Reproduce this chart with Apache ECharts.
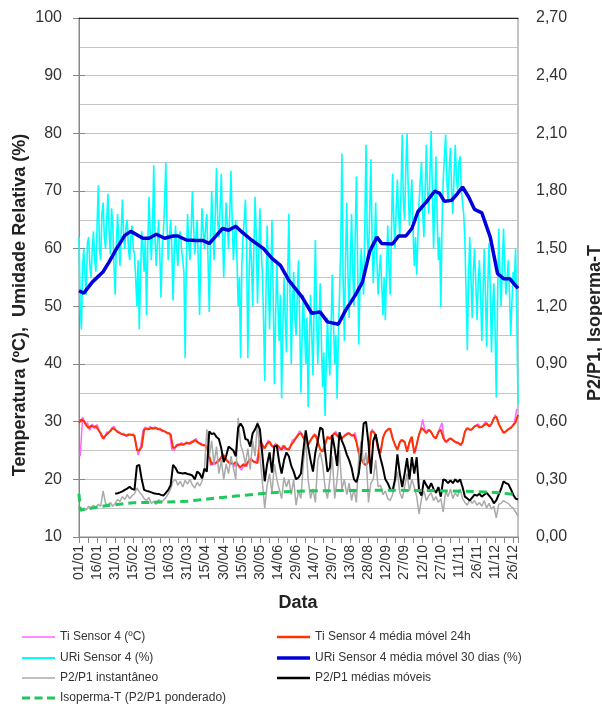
<!DOCTYPE html>
<html>
<head>
<meta charset="utf-8">
<title>Sensor 4</title>
<script src="https://cdn.jsdelivr.net/npm/echarts@6/dist/echarts.min.js"></script>
<style>
	html, body { margin: 0; padding: 0; background: #fff; }
	#chart { width: 602px; height: 707px; }
</style>
</head>
<body>
<div id="chart"></div>
<script>
// dias contados a partir de 01/01 (ano bissexto)

// URi Sensor 4 (%) - um valor por dia, 0..364
const uriSensor = [
	62, 50, 46, 57, 60, 55, 52, 61, 62, 57, 55, 60, 63, 58, 56, 64,
	71, 60, 58, 66, 68, 62, 60, 65, 69.5, 63, 59, 67, 64, 57, 52, 61,
	66, 61, 57, 63, 68.5, 62, 60, 64, 65, 60, 58, 62, 64, 60, 59, 55,
	50, 58, 46, 55, 63, 60, 56, 62, 48.5, 60, 69, 63, 58, 64, 74.5, 62,
	57, 61, 65, 59, 51.5, 60, 63, 68, 75, 64, 58, 62, 65, 60, 51, 59,
	64, 60, 57, 62, 63, 60, 58, 56, 41, 58, 66, 61, 58, 63, 70, 64,
	59, 62, 65, 57, 48.5, 60, 67, 63, 60, 64, 66, 58, 49, 61, 70, 64,
	58, 66, 74, 65, 62, 67, 73, 63, 55, 62, 68, 64, 60, 66, 73.5, 65,
	58, 62, 65, 58, 50, 55, 41, 57, 62, 65, 68.5, 60, 41, 55, 62, 58,
	50, 60, 69, 62, 50.5, 58, 67, 60, 56, 48, 37, 52, 64, 55, 46, 54,
	65, 52, 36.5, 48, 58, 50, 44, 52, 34, 46, 55, 48, 42, 55, 66, 52,
	40, 50, 56, 48, 45, 52, 58, 47, 35, 45, 52, 46, 40, 48, 32.5, 44,
	52, 45, 38, 50, 61.5, 48, 40, 47, 54, 44, 36, 42, 31, 40, 48, 42,
	38, 46, 55.5, 47, 40, 45, 34, 44, 52, 60, 76.5, 55, 44, 58, 68, 56,
	48, 58, 66, 56, 50, 62, 72.5, 58, 43.4, 54, 60, 56, 52, 64, 78, 62,
	58, 66, 75.5, 62, 54, 60, 68, 58, 52, 56, 59, 54, 48.5, 55, 47.6, 56,
	64, 57, 52, 62, 73, 65, 60, 67, 72, 66, 62, 70, 79.8, 68, 65, 74,
	80, 70, 64, 68, 72, 63, 57, 62, 55.5, 62, 68, 72, 75, 66, 62, 70,
	78, 70, 66, 73, 80.4, 70, 60, 68, 76, 65, 58, 62, 49.9, 64, 72, 76,
	79.8, 72, 68, 74, 77.5, 70, 66, 73, 78, 72, 70, 75, 76, 70, 68, 66,
	61, 52, 42.4, 55, 62, 55, 48, 56, 60, 54, 47.6, 54, 58, 52, 44, 52,
	60, 52, 43, 54, 61, 53, 42, 50, 54, 46, 34.2, 50, 63.5, 56, 50, 57,
	63.5, 57, 52, 55, 58, 52, 45, 51, 56, 54, 60, 48, 33
];

// URi Sensor 4 média móvel 30 dias (%)
const uriMediaDias = [0, 4, 11, 20, 25, 32, 38, 43, 49, 53, 58, 64, 71, 78, 82, 89, 97, 103, 108, 114,
	119, 124, 130, 135, 143, 153, 160, 167, 174, 185, 193, 200, 206, 215, 221, 229, 235, 241, 247, 251,
	260, 265, 271, 276, 281, 288, 295, 299, 303, 309, 314, 318, 323, 328, 334, 341, 347, 352, 357, 364];
const uriMediaValores = [52.7, 52.3, 54.2, 56.0, 57.7, 60.3, 62.3, 63.0, 62.3, 61.8, 61.8, 62.5, 61.8, 62.2, 62.2, 61.5, 61.4, 61.4, 60.9, 62.3,
	63.5, 63.2, 63.9, 62.9, 61.5, 60.0, 58.3, 57.1, 54.5, 51.6, 48.8, 49.0, 47.3, 46.9, 49.3, 51.9, 54.2, 59.5, 62.0, 60.9,
	60.8, 62.2, 62.2, 63.5, 66.4, 68.1, 70.0, 69.6, 68.2, 68.4, 69.6, 70.7, 69.0, 66.8, 66.2, 62.0, 55.7, 54.8, 54.8, 53.1];

// Ti Sensor 4 (ºC) - dias 1,3,5...
const tiSensor = [
	24.0, 30.8, 29.6, 29.8, 28.5, 29.6, 28.8, 29.5,
	28.2, 27.2, 27.0, 28.2, 28.1, 28.8, 29.2, 28.4,
	28.3, 27.8, 28.0, 27.4, 27.9, 27.6, 27.9, 26.5,
	24.2, 25.6, 28.4, 29.1, 28.6, 29.2, 28.7, 29.1,
	28.6, 28.9, 28.3, 28.4, 27.9, 28.1, 25.2, 25.0,
	26.1, 25.8, 26.4, 25.9, 26.5, 26.1, 26.6, 26.4,
	27.1, 26.3, 26.3, 25.8, 26.0, 25.4, 22.4, 23.0,
	22.6, 23.4, 23.5, 24.5, 23.8, 23.1, 22.6, 22.9,
	22.2, 23.1, 22.0, 21.6, 22.8, 22.2, 23.3, 23.6,
	22.9, 23.2, 24.5, 26.6, 25.2, 26.0, 26.8, 25.9,
	25.5, 26.3, 25.4, 25.0, 25.9, 25.1, 25.3, 25.6,
	26.8, 27.0, 27.6, 28.4, 27.8, 26.8, 26.2, 26.3,
	27.1, 27.9, 27.4, 25.8, 24.9, 25.2, 26.8, 27.2,
	27.4, 27.9, 28.3, 27.4, 27.0, 27.3, 27.8, 28.1,
	27.8, 27.5, 28.1, 25.6, 23.9, 23.2, 22.4, 22.7,
	26.0, 28.7, 27.9, 26.2, 24.4, 25.9, 27.8, 28.5,
	28.9, 28.2, 26.5, 25.4, 25.6, 26.9, 26.6, 25.8,
	25.2, 27.2, 25.6, 24.8, 27.2, 28.4, 30.4, 28.2,
	28.5, 28.5, 27.8, 27.2, 27.6, 28.8, 29.8, 26.8,
	26.4, 27.1, 27.0, 26.6, 26.2, 26.3, 25.8, 27.4,
	28.8, 28.7, 28.5, 29.0, 29.3, 29.6, 29.0, 29.3,
	30.0, 29.5, 29.2, 30.0, 31.2, 30.4, 29.2, 28.4,
	28.0, 28.6, 28.8, 29.2, 29.8, 32.2
];

// Ti Sensor 4 média móvel 24h - dias 0,2,4...
const tiMedia24h = [
	29.8, 30.4, 30.1, 29.4, 28.9, 29.3, 29.1, 29.2,
	28.6, 28.0, 27.1, 27.6, 28.0, 28.4, 28.9, 28.6,
	28.2, 28.0, 27.8, 27.7, 27.6, 27.8, 27.7, 27.6,
	25.1, 25.0, 25.6, 28.6, 28.8, 28.7, 28.9, 28.8,
	28.9, 28.7, 28.6, 28.4, 28.2, 28.0, 27.8, 25.4,
	25.6, 26.0, 26.1, 26.0, 26.2, 26.3, 26.2, 26.5,
	26.8, 26.5, 26.2, 26.0, 25.9, 25.7, 24.0, 22.6,
	22.8, 22.9, 23.2, 23.8, 24.2, 23.4, 23.0, 22.8,
	22.6, 23.0, 22.4, 22.1, 22.6, 22.3, 23.0, 23.5,
	23.2, 23.0, 22.8, 26.8, 26.0, 25.4, 26.2, 26.5,
	25.8, 25.7, 26.0, 25.6, 25.1, 25.8, 25.3, 25.1,
	26.0, 26.5, 27.2, 27.8, 28.0, 27.2, 26.5, 26.0,
	26.8, 27.4, 27.7, 26.5, 25.2, 24.8, 26.0, 27.4,
	27.0, 27.6, 28.0, 27.6, 27.1, 27.1, 27.5, 27.8,
	28.0, 27.6, 27.7, 26.5, 24.5, 23.5, 22.8, 22.5,
	23.0, 28.2, 28.3, 27.7, 25.2, 24.6, 27.2, 28.2,
	28.6, 28.8, 27.1, 26.0, 25.1, 26.5, 26.8, 26.5,
	24.8, 26.5, 27.4, 24.5, 26.0, 27.8, 28.9, 28.5,
	28.0, 28.6, 28.2, 27.4, 27.1, 28.2, 28.6, 27.2,
	26.5, 26.8, 27.1, 26.8, 26.5, 26.4, 26.0, 26.4,
	28.3, 28.9, 28.6, 28.7, 29.2, 29.4, 29.0, 29.1,
	29.4, 29.7, 29.2, 29.6, 30.6, 30.9, 29.6, 28.8,
	28.1, 28.3, 28.7, 28.9, 29.4, 29.9, 31.2
];

// P2/P1 instantâneo - dias 0,2,4...
const p2p1Inst = [
	0.150, 0.135, 0.150, 0.140, 0.160, 0.150, 0.165, 0.155,
	0.170, 0.160, 0.240, 0.175, 0.165, 0.180, 0.160, 0.175,
	0.195, 0.185, 0.210, 0.195, 0.220, 0.200, 0.215, 0.225,
	0.255, 0.235, 0.220, 0.200, 0.190, 0.205, 0.175, 0.185,
	0.170, 0.195, 0.180, 0.190, 0.205, 0.225, 0.250, 0.290,
	0.300, 0.270, 0.290, 0.260, 0.295, 0.275, 0.300, 0.270,
	0.255, 0.285, 0.265, 0.290, 0.350, 0.560, 0.420, 0.500,
	0.380, 0.470, 0.330, 0.400, 0.300, 0.380, 0.330, 0.420,
	0.360, 0.300, 0.620, 0.480, 0.440, 0.380, 0.460, 0.350,
	0.500, 0.420, 0.600, 0.420, 0.290, 0.150, 0.270, 0.330,
	0.230, 0.380, 0.300, 0.250, 0.200, 0.310, 0.260, 0.300,
	0.220, 0.300, 0.165, 0.240, 0.200, 0.380, 0.510, 0.300,
	0.200, 0.250, 0.180, 0.400, 0.440, 0.380, 0.260, 0.200,
	0.300, 0.420, 0.200, 0.300, 0.450, 0.250, 0.300, 0.220,
	0.280, 0.190, 0.250, 0.180, 0.420, 0.500, 0.380, 0.440,
	0.180, 0.280, 0.300, 0.400, 0.260, 0.270, 0.220, 0.240,
	0.200, 0.190, 0.220, 0.280, 0.340, 0.230, 0.200, 0.260,
	0.330, 0.240, 0.300, 0.260, 0.210, 0.120, 0.200, 0.240,
	0.190, 0.215, 0.230, 0.190, 0.210, 0.180, 0.200, 0.130,
	0.240, 0.210, 0.250, 0.200, 0.230, 0.210, 0.250, 0.200,
	0.180, 0.165, 0.195, 0.175, 0.190, 0.165, 0.180, 0.160,
	0.190, 0.150, 0.175, 0.145, 0.160, 0.100, 0.170, 0.175,
	0.190, 0.180, 0.175, 0.160, 0.150, 0.130, 0.110
];

// P2/P1 médias móveis - dias 0,2,4... (sem valores antes de 31/01)
const p2p1Medias = [
	null, null, null, null, null, null, null, null,
	null, null, null, null, null, null, null, 0.225,
	0.228, 0.232, 0.237, 0.245, 0.252, 0.261, 0.250, 0.245,
	0.370, 0.375, 0.300, 0.245, 0.240, 0.237, 0.232, 0.228,
	0.225, 0.224, 0.219, 0.215, 0.230, 0.245, 0.270, 0.375,
	0.360, 0.335, 0.333, 0.330, 0.333, 0.328, 0.325, 0.320,
	0.300, 0.340, 0.330, 0.305, 0.355, 0.340, 0.550, 0.535,
	0.540, 0.520, 0.510, 0.460, 0.390, 0.420, 0.470, 0.460,
	0.450, 0.420, 0.570, 0.590, 0.570, 0.510, 0.505, 0.470,
	0.540, 0.560, 0.590, 0.560, 0.430, 0.290, 0.380, 0.440,
	0.335, 0.470, 0.475, 0.390, 0.330, 0.400, 0.440, 0.420,
	0.370, 0.340, 0.300, 0.310, 0.330, 0.450, 0.555, 0.470,
	0.400, 0.340, 0.440, 0.500, 0.570, 0.560, 0.450, 0.340,
	0.360, 0.530, 0.460, 0.370, 0.545, 0.500, 0.470, 0.430,
	0.400, 0.360, 0.300, 0.285, 0.330, 0.440, 0.590, 0.600,
	0.490, 0.330, 0.500, 0.535, 0.470, 0.410, 0.360, 0.300,
	0.280, 0.250, 0.240, 0.300, 0.430, 0.330, 0.260, 0.330,
	0.410, 0.300, 0.415, 0.330, 0.415, 0.240, 0.215, 0.295,
	0.270, 0.250, 0.280, 0.250, 0.230, 0.260, 0.210, 0.300,
	0.295, 0.280, 0.295, 0.280, 0.300, 0.285, 0.300, 0.260,
	0.210, 0.200, 0.190, 0.205, 0.220, 0.215, 0.225, 0.210,
	0.220, 0.230, 0.215, 0.200, 0.175, 0.190, 0.220, 0.250,
	0.290, 0.280, 0.275, 0.250, 0.220, 0.200, 0.195
];

// Isoperma-T (P2/P1 ponderado)
const isopermaDias = [0, 1, 10, 25, 45, 70, 90, 110, 130, 150, 170, 190, 220, 260, 290, 320, 345, 364];
const isopermaValores = [0.225, 0.14, 0.15, 0.165, 0.178, 0.182, 0.186, 0.20, 0.213, 0.225, 0.235, 0.24, 0.242, 0.243, 0.242, 0.238, 0.232, 0.22];

const nomes = {
	ti: 'Ti Sensor 4 (ºC)',
	tiMedia: 'Ti Sensor 4 média móvel 24h',
	uri: 'URi Sensor 4 (%)',
	uriMedia: 'URi Sensor 4 média móvel 30 dias (%)',
	inst: 'P2/P1 instantâneo',
	medias: 'P2/P1 médias móveis',
	iso: 'Isoperma-T (P2/P1 ponderado)'
};

function pares(valores, inicio, passo) {
	return valores.map(function(v, i) { return [inicio + i * passo, v]; });
}
function juntar(dias, valores) {
	return dias.map(function(d, i) { return [d, valores[i]]; });
}
function dataLabel(v) {
	let d = new Date(Date.UTC(2012, 0, 1) + v * 86400000);
	let dd = ('0' + d.getUTCDate()).slice(-2);
	let mm = ('0' + (d.getUTCMonth() + 1)).slice(-2);
	return dd + '/' + mm;
}

let myChart = echarts.init(document.getElementById('chart'));

let fonte = 'Liberation Sans';
let gridLine = { color: '#c4c4c4', width: 1.2 };

// uma legenda por item, em duas colunas
function legenda(nome, left, top, espessura, icone) {
	return {
		left: left,
		top: top,
		padding: 0,
		itemWidth: 33,
		itemHeight: espessura,
		icon: icone || 'rect',
		data: [nome],
		textStyle: { fontFamily: fonte, fontSize: 12, color: '#333' }
	};
}
let tracos = 'path://M0,0h8v3h-8z M12.5,0h8v3h-8z M25,0h8v3h-8z';

option = {
	animation: false,
	grid: {
		left: 79,
		right: 84,
		top: 18,
		bottom: 170,
		show: true,
		borderColor: '#888',
		borderWidth: 1
	},
	legend: [
		legenda(nomes.ti, 22, 631, 1.5),
		legenda(nomes.uri, 22, 652, 2),
		legenda(nomes.inst, 22, 672, 1.5),
		legenda(nomes.iso, 22, 692, 3, tracos),
		legenda(nomes.tiMedia, 277, 631, 2.5),
		legenda(nomes.uriMedia, 277, 652, 3.5),
		legenda(nomes.medias, 277, 672, 2.5)
	],
	graphic: [{
		type: 'text',
		x: 20,
		y: 305,
		rotation: Math.PI / 2,
		style: {
			text: 'Temperatura (ºC),  Umidade Relativa (%)',
			font: 'bold 18px "Liberation Sans"',
			fill: '#222',
			textAlign: 'center',
			textVerticalAlign: 'middle'
		}
	}, {
		type: 'text',
		x: 595,
		y: 323,
		rotation: Math.PI / 2,
		style: {
			text: 'P2/P1, Isoperma-T',
			font: 'bold 18px "Liberation Sans"',
			fill: '#222',
			textAlign: 'center',
			textVerticalAlign: 'middle'
		}
	}, {
		type: 'text',
		x: 298,
		y: 603,
		style: {
			text: 'Data',
			font: 'bold 18px "Liberation Sans"',
			fill: '#222',
			textAlign: 'center',
			textVerticalAlign: 'middle'
		}
	}],
	xAxis: [{
		type: 'value',
		min: 0,
		max: 364,
		interval: 15,
		axisLine: { lineStyle: { color: '#888' } },
		axisTick: { length: 6, lineStyle: { color: '#888' } },
		minorTick: { show: true, splitNumber: 2, length: 6, lineStyle: { color: '#888' } },
		splitLine: { show: false },
		axisLabel: {
			rotate: 90,
			margin: 8,
			showMaxLabel: false,
			fontFamily: fonte,
			fontSize: 14,
			color: '#333',
			formatter: dataLabel
		}
	}, {
		type: 'value',
		position: 'top',
		min: 0,
		max: 364,
		z: 5,
		axisLine: { show: true, lineStyle: { color: '#222', width: 1.2 } },
		axisTick: { show: false },
		axisLabel: { show: false },
		splitLine: { show: false }
	}],
	yAxis: [{
		type: 'value',
		position: 'left',
		min: 10,
		max: 100,
		interval: 10,
		axisLine: { show: true, lineStyle: { color: '#888' } },
		axisTick: { show: true, length: 6, lineStyle: { color: '#888' } },
		axisLabel: { margin: 17, fontFamily: fonte, fontSize: 16, color: '#333' },
		splitLine: { show: true, lineStyle: gridLine },
		minorTick: { show: false, splitNumber: 2 },
		minorSplitLine: { show: true, lineStyle: gridLine }
	}, {
		type: 'value',
		position: 'right',
		min: 0,
		max: 2.7,
		interval: 0.3,
		axisLine: { show: true, lineStyle: { color: '#888' } },
		axisTick: { show: true, length: 6, lineStyle: { color: '#888' } },
		axisLabel: {
			margin: 18,
			fontFamily: fonte,
			fontSize: 16,
			color: '#333',
			formatter: function(v) { return v.toFixed(2).replace('.', ','); }
		},
		splitLine: { show: false }
	}],
	series: [{
		name: nomes.uri,
		type: 'line',
		symbol: 'none',
		data: pares(uriSensor, 0, 1),
		lineStyle: { color: '#00ffff', width: 1.6 },
		itemStyle: { color: '#00ffff' }
	}, {
		name: nomes.uriMedia,
		type: 'line',
		symbol: 'none',
		data: juntar(uriMediaDias, uriMediaValores),
		lineStyle: { color: '#0000dd', width: 3.5 },
		itemStyle: { color: '#0000dd' }
	}, {
		name: nomes.ti,
		type: 'line',
		symbol: 'none',
		data: pares(tiSensor, 1, 2),
		lineStyle: { color: '#ff66ff', width: 1.5 },
		itemStyle: { color: '#ff66ff' }
	}, {
		name: nomes.tiMedia,
		type: 'line',
		symbol: 'none',
		data: pares(tiMedia24h, 0, 2),
		lineStyle: { color: '#ff3300', width: 2 },
		itemStyle: { color: '#ff3300' }
	}, {
		name: nomes.inst,
		type: 'line',
		symbol: 'none',
		yAxisIndex: 1,
		data: pares(p2p1Inst, 0, 2),
		lineStyle: { color: '#aaaaaa', width: 1.5 },
		itemStyle: { color: '#aaaaaa' }
	}, {
		name: nomes.medias,
		type: 'line',
		symbol: 'none',
		yAxisIndex: 1,
		data: pares(p2p1Medias, 0, 2),
		lineStyle: { color: '#000000', width: 2 },
		itemStyle: { color: '#000000' }
	}, {
		name: nomes.iso,
		type: 'line',
		symbol: 'none',
		yAxisIndex: 1,
		data: juntar(isopermaDias, isopermaValores),
		lineStyle: { color: '#1fc85a', width: 3, type: [8, 5] },
		itemStyle: { color: '#1fc85a' }
	}]
};

myChart.setOption(option);
window.addEventListener('resize', function() {
	myChart.resize();
})
</script>
</body>
</html>
